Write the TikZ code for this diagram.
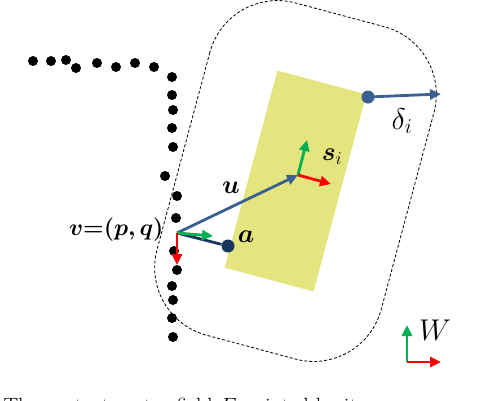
\documentclass[tikz,border=0pt]{standalone}
\usepackage{fix-cm}
\usepackage{amsmath}
\usepackage{bm}
\usetikzlibrary{arrows.meta}
\definecolor{padyellow}{RGB}{229,229,128}
\definecolor{ublue}{RGB}{58,96,146}
\definecolor{adark}{RGB}{23,55,94}
\definecolor{xgreen}{RGB}{0,176,80}
\definecolor{xred}{RGB}{255,0,0}

\tikzset{
  dot/.style={circle,fill=black,inner sep=0pt,minimum size=10pt},
  bluedot/.style={circle,fill=#1,inner sep=0pt,minimum size=13pt},
  vec/.style={line width=2.8pt,#1,-{Triangle[length=11pt,width=10pt]}},
  lbl/.style={font=\fontsize{26}{30}\selectfont},
  biglbl/.style={font=\fontsize{30}{34}\selectfont}
}

\begin{document}
\begin{tikzpicture}[x=1pt,y=-1pt]
  \useasboundingbox (0,0) rectangle (478,400);

  % pad and its safety margin
  \begin{scope}[shift={(295.5,181)},rotate=-15]
    \fill[padyellow] (-46,-102) rectangle (46,102);
    \draw[line width=0.8pt,dash pattern=on 3pt off 2pt,rounded corners=70pt]
      (-116,-172) rectangle (116,172);
  \end{scope}

  % contour points
  \foreach \x/\y [count=\i] in {33/61,51/61,66/60,76/68,97/63,116/67,135/63,154/67,
      172/77,172/95,173/110,172/128,173/147,165/176,177/196,176/218,
      174/251,177/270,172/286,173/300,172/318,173/337}
    \node[dot] (c\i) at (\x,\y) {};

  \coordinate (v) at (177,233);
  \coordinate (s) at (298,175);
  \coordinate (dtip) at (441,94);
  \coordinate (w) at (407,362);
  \node[bluedot=adark] (a) at (228,246) {};
  \node[bluedot=ublue] (corner) at (368,97) {};

  % vectors
  \draw[line width=2.8pt,adark] (v) -- (a);
  \draw[vec=ublue] (v) -- (s);
  \draw[vec=ublue] (corner.center) -- (dtip);

  % frame at v
  \draw[vec=xgreen] (v) -- (213,236);
  \draw[vec=xred] (v) -- (177,265);

  % frame at s
  \draw[vec=xgreen] (s) -- (307,140);
  \draw[vec=xred] (s) -- (331,184);

  % world frame
  \draw[vec=xgreen] (w) -- (407,325);
  \draw[vec=xred] (w) -- (441,362);

  % labels
  \node[lbl] (ulbl) at (231,188) {$\bm{u}$};
  \node[lbl] (albl) at (246,237) {$\bm{a}$};
  \node[lbl,anchor=east,font=\fontsize{23.5}{28}\selectfont] (vlbl) at (167,230) {$\bm{v{=}(p,q)}$};
  \node[lbl] (slbl) at (332,157) {$\bm{s}_i$};
  \node[biglbl] (dlbl) at (402,121) {$\delta_i$};
  \node[biglbl] (wlbl) at (435,330) {$W$};

  % caption (cut off)
  \node[anchor=base west,font=\fontsize{22}{26}\selectfont] (cap) at (0,413)
    {The contact vector field $F$ pointed by its};
\end{tikzpicture}
\end{document}
